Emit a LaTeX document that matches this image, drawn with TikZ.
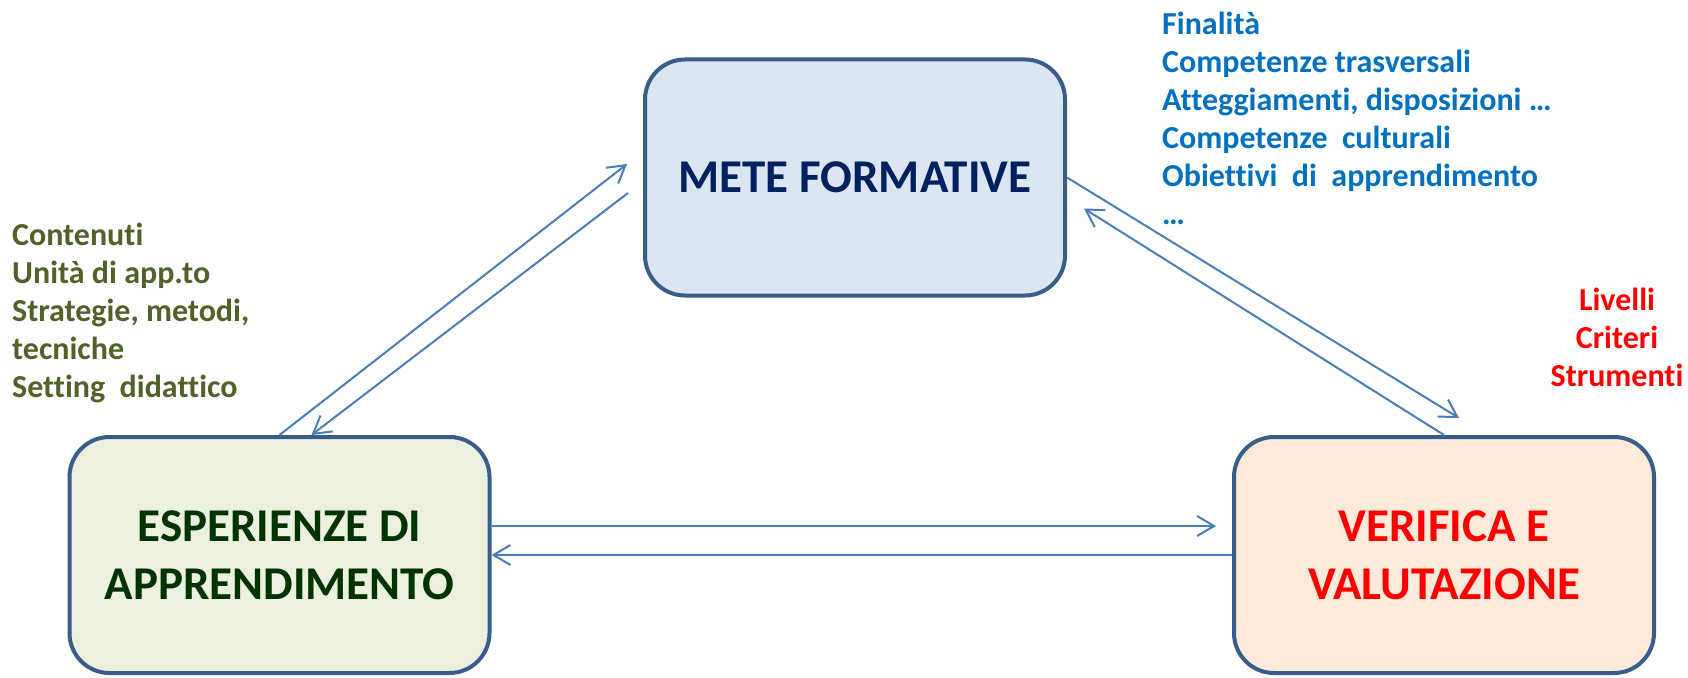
\documentclass[tikz,border=0pt]{standalone}
\usepackage{fontspec}
\setmainfont{Carlito}[Ligatures=NoCommon]
\usetikzlibrary{arrows.meta}

\definecolor{boxline}{HTML}{385D8A}
\definecolor{linkblue}{HTML}{4A7EBB}
\definecolor{metafill}{HTML}{DCE6F2}
\definecolor{esperfill}{HTML}{EBF1DE}
\definecolor{veriffill}{HTML}{FDEADA}
\definecolor{metatext}{HTML}{002060}
\definecolor{espertext}{HTML}{003300}
\definecolor{listblue}{HTML}{0070C0}
\definecolor{listgreen}{HTML}{4F6228}
\definecolor{listred}{HTML}{FF0000}

\begin{document}
\begin{tikzpicture}[x=1pt, y=1pt, >={Straight Barb[length=17pt,width=20pt]}, node distance=1164.5pt]
    \tikzset{box/.style = {shape=rectangle, rounded corners=40pt, draw=boxline, line width=4pt,
        minimum width=420pt, minimum height=236pt, align=center,
        font=\bfseries\fontsize{47}{58}\selectfont}}
    \tikzset{note/.style = {inner sep=0pt, font=\bfseries\fontsize{32}{38}\selectfont}}
    \tikzset{link/.style = {draw=linkblue, line width=2pt}}

    \useasboundingbox (0,0) rectangle (1688,-677);

    % the three boxes
    \node[box, fill=metafill, text=metatext] (meta) at (855,-177.5) {METE FORMATIVE};
    \node[box, fill=esperfill, text=espertext] (esper) at (279.5,-555) {ESPERIENZE DI\\APPRENDIMENTO};
    \node[box, fill=veriffill, text=listred, right of=esper] (verif) {VERIFICA E\\VALUTAZIONE};

    % side lists (anchored on the baseline of the last line)
    \node[note, text=listblue, align=left, anchor=base west] (goals) at (1162,-224)
        {Finalità\\Competenze trasversali\\Atteggiamenti, disposizioni …\\Competenze\ \ culturali\\Obiettivi\ \ di\ \ apprendimento\\…};
    \node[note, text=listgreen, align=left, anchor=base west] (contents) at (12,-397)
        {Contenuti\\Unità di app.to\\Strategie, metodi,\\tecniche\\Setting\ \ didattico};
    \node[note, text=listred, align=center, anchor=base] (checks) at (1617,-386)
        {Livelli\\Criteri\\Strumenti};

    % connectors
    \draw[link, ->] (esper.north) -- ([shift={(-16,13.5)}]meta.west);
    \draw[link, ->] ([shift={(-15,-15.5)}]meta.west) -- ([shift={(32,0)}]esper.north);

    \draw[link, ->] (meta.east) -- ([shift={(15,17)}]verif.north);
    \draw[link, ->] (verif.north) -- ([shift={(17,-31)}]meta.east);

    \draw[link, ->] ([shift={(0,29)}]esper.east) -- ([shift={(-16,29)}]verif.west);
    \draw[link, ->] (verif.west) -- (esper.east);
\end{tikzpicture}
\end{document}
